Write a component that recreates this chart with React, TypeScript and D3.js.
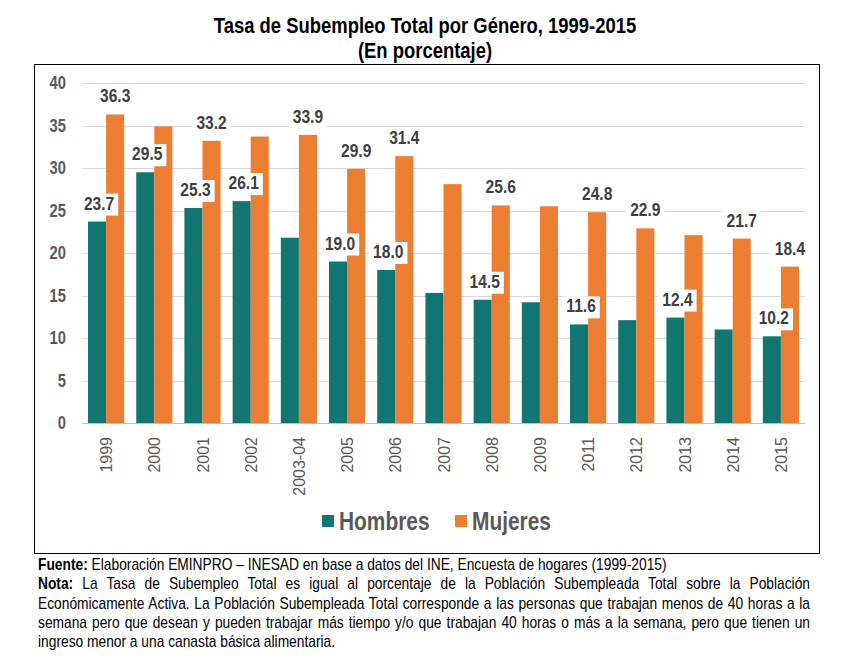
import React, { useEffect, useRef } from 'react';
import * as d3 from 'd3';

const years = ['1999', '2000', '2001', '2002', '2003-04', '2005', '2006', '2007', '2008', '2009', '2011', '2012', '2013', '2014', '2015'];
const hombres = [23.7, 29.5, 25.3, 26.1, 21.8, 19.0, 18.0, 15.3, 14.5, 14.2, 11.6, 12.1, 12.4, 11.0, 10.2];
const mujeres = [36.3, 34.9, 33.2, 33.7, 33.9, 29.9, 31.4, 28.1, 25.6, 25.5, 24.8, 22.9, 22.1, 21.7, 18.4];
// which bars carry a value label
const hombresLabeled = [true, true, true, true, false, true, true, false, true, false, true, false, true, false, true];
const mujeresLabeled = [true, false, true, false, true, true, true, false, true, false, true, true, false, true, true];
const yTicks = [0, 5, 10, 15, 20, 25, 30, 35, 40];

const footLines = [
  { bold: 'Fuente:', text: ' Elaboración EMINPRO – INESAD en base a datos del INE, Encuesta de hogares (1999-2015)', justify: false },
  { bold: 'Nota:', text: ' La Tasa de Subempleo Total es igual al porcentaje de la Población Subempleada Total sobre la Población', justify: true },
  { bold: '', text: 'Económicamente Activa. La Población Subempleada Total corresponde a las personas que trabajan menos de 40 horas a la', justify: true },
  { bold: '', text: 'semana pero que desean y pueden trabajar más tiempo y/o que trabajan 40 horas o más a la semana, pero que tienen un', justify: true },
  { bold: '', text: 'ingreso menor a una canasta básica alimentaria.', justify: false },
];

const TEAL = '#117571';
const ORANGE = '#ED7D31';
const ARIAL = "'Liberation Sans', Arial, sans-serif";
const SQ = 0.82; // horizontal squeeze to mimic Arial Narrow

const App: React.FC = () => {
  const svgRef = useRef<SVGSVGElement>(null);

  useEffect(() => {
    if (!svgRef.current) return;
    const svg = d3.select(svgRef.current);
    svg.selectAll('*').remove();

    // narrow text: Liberation Sans squeezed horizontally
    const narrow = (parent: any, px: number, py: number, size: number, bold: boolean, anchor = 'start') =>
      parent.append('text')
        .attr('transform', `translate(${px},${py}) scale(${SQ},1)`)
        .attr('text-anchor', anchor)
        .style('font-family', ARIAL).style('font-size', `${size}px`)
        .style('font-weight', bold ? 'bold' : 'normal');

    const x = d3.scaleBand().domain(years).range([82, 805]).paddingInner(0.25).paddingOuter(0.125);
    const sub = d3.scaleBand().domain(['h', 'm']).range([0, x.bandwidth()]);
    const y = d3.scaleLinear().domain([0, 40]).range([423, 83]);

    // Title
    narrow(svg, 425, 33, 22.5, true, 'middle').text('Tasa de Subempleo Total por Género, 1999-2015');
    narrow(svg, 425, 58, 22.5, true, 'middle').text('(En porcentaje)');

    // Frame
    svg.append('rect').attr('x', 34.5).attr('y', 64.5).attr('width', 785).attr('height', 489)
      .attr('fill', 'none').attr('stroke', '#000').attr('stroke-width', 1);

    // Grid
    svg.append('g').selectAll('line').data(yTicks.filter((t) => t > 0)).join('line')
      .attr('x1', 82).attr('x2', 805)
      .attr('y1', (d) => Math.round(y(d)) + 0.5).attr('y2', (d) => Math.round(y(d)) + 0.5)
      .attr('stroke', '#d9d9d9').attr('stroke-width', 1);

    // Y tick labels
    const yg = svg.append('g');
    yTicks.forEach((t) => {
      narrow(yg, 66, y(t) + 6, 18, true, 'end').attr('fill', '#595959').text(t);
    });

    // Bars
    const series = [
      { key: 'h', values: hombres, color: TEAL },
      { key: 'm', values: mujeres, color: ORANGE },
    ];
    series.forEach((s) => {
      svg.append('g').selectAll('rect').data(s.values).join('rect')
        .attr('x', (d, i) => (x(years[i]) || 0) + (sub(s.key) || 0))
        .attr('y', (d) => y(d))
        .attr('width', sub.bandwidth())
        .attr('height', (d) => y(0) - y(d))
        .attr('fill', s.color);
    });

    // Axis line
    svg.append('line').attr('x1', 82).attr('x2', 805).attr('y1', 423.5).attr('y2', 423.5)
      .attr('stroke', '#bfbfbf').attr('stroke-width', 1);

    // X labels
    svg.append('g').selectAll('text').data(years).join('text')
      .attr('transform', (d) => `translate(${(x(d) || 0) + x.bandwidth() / 2 + 6},437) rotate(-90)`)
      .attr('text-anchor', 'end')
      .style('font-family', ARIAL).style('font-size', '16px')
      .attr('fill', '#595959').text((d) => d);

    // Value labels with white boxes
    const labelData: { cx: number; v: number }[] = [];
    hombres.forEach((v, i) => {
      if (hombresLabeled[i]) labelData.push({ cx: (x(years[i]) || 0) + (sub('h') || 0) + sub.bandwidth() / 2 + 2, v });
    });
    mujeres.forEach((v, i) => {
      if (mujeresLabeled[i]) labelData.push({ cx: (x(years[i]) || 0) + (sub('m') || 0) + sub.bandwidth() / 2, v });
    });
    const labG = svg.append('g');
    labelData.forEach((d) => {
      const g = labG.append('g');
      const r = g.append('rect').attr('fill', '#fff');
      const t = narrow(g, d.cx, y(d.v) - 12, 19, true, 'middle').attr('fill', '#404040').text(d.v.toFixed(1));
      const w = (t.node() as SVGTextElement).getComputedTextLength() * SQ;
      r.attr('x', d.cx - w / 2 - 4).attr('y', y(d.v) - 28).attr('width', w + 8).attr('height', 22);
    });

    // Legend
    const legend = svg.append('g');
    const items = [
      { name: 'Hombres', color: TEAL, x: 322 },
      { name: 'Mujeres', color: ORANGE, x: 455 },
    ];
    items.forEach((it) => {
      legend.append('rect').attr('x', it.x).attr('y', 515).attr('width', 12).attr('height', 12).attr('fill', it.color);
      narrow(legend, it.x + 17, 530, 25.5, true).attr('fill', '#595959').text(it.name);
    });

    // Footnote
    const left = 38;
    const right = 810;
    footLines.forEach((ln, i) => {
      const t = narrow(svg, left, 570 + i * 19.3, 16.8, false).attr('fill', '#000');
      if (ln.bold) t.append('tspan').style('font-weight', 'bold').text(ln.bold);
      t.append('tspan').text(ln.text);
      if (ln.justify) {
        const w = (t.node() as SVGTextElement).getComputedTextLength();
        const full = ln.bold + ln.text;
        const gaps = full.trim().split(/\s+/).length - 1;
        if (gaps > 0) t.style('word-spacing', `${((right - left) / SQ - w) / gaps}px`);
      }
    });
  }, []);

  return (
    <svg
      ref={svgRef}
      width={855}
      height={660}
      style={{ position: 'absolute', left: 0, top: 0, display: 'block', background: '#fff' }}
    />
  );
};

export default App;
